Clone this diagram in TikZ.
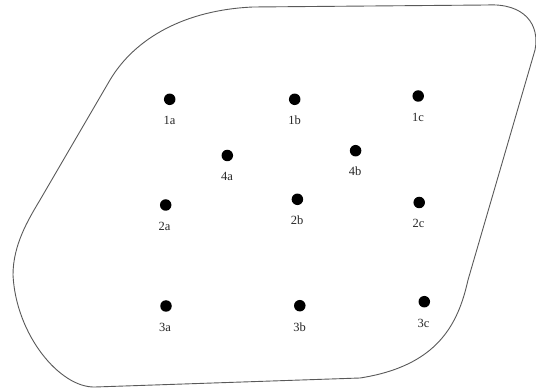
\documentclass[tikz,border=0pt]{standalone}
\usepackage{fontspec}
\setmainfont{Liberation Serif}
\begin{document}
\begin{tikzpicture}[x=1pt,y=-1pt,
  dotnode/.style={circle,fill=black,inner sep=0pt,minimum size=11.5pt},
  lbl/.style={font=\fontsize{12.5}{14}\selectfont,text=black!85,inner sep=0pt},
  outline/.style={draw=black!65,line width=0.9pt}]
\useasboundingbox (0,0) rectangle (536,390);
% outline
\draw[outline] (253,7) -- (487,5) .. controls (525,3) and (540,25) .. (535,50)
  -- (468,280) .. controls (458,325) and (437,366) .. (360,378)
  -- (95,387) .. controls (60,388) and (16,335) .. (13,275)
  .. controls (13,245) and (28,220) .. (40,200)
  -- (110,80) .. controls (135,38) and (185,10) .. (253,7) -- cycle;
% dots
\node[dotnode] (d1a) at (169.7,99.3) {};
\node[dotnode] (d1b) at (294.7,99.3) {};
\node[dotnode] (d1c) at (418.2,96) {};
\node[dotnode] (d4a) at (227.3,155.5) {};
\node[dotnode] (d4b) at (355.6,150.7) {};
\node[dotnode] (d2a) at (165.7,205) {};
\node[dotnode] (d2b) at (297.4,199.3) {};
\node[dotnode] (d2c) at (419.2,202.5) {};
\node[dotnode] (d3a) at (166,306) {};
\node[dotnode] (d3b) at (299.8,305.7) {};
\node[dotnode] (d3c) at (424.3,301.7) {};
% labels
\node[lbl] (l1a) at (169.5,120.5) {1a};
\node[lbl] (l1b) at (294.5,120.5) {1b};
\node[lbl] (l1c) at (418,117) {1c};
\node[lbl] (l4a) at (227,176.5) {4a};
\node[lbl] (l4b) at (355,171.5) {4b};
\node[lbl] (l2a) at (164.5,226) {2a};
\node[lbl] (l2b) at (297,220.5) {2b};
\node[lbl] (l2c) at (418.5,223.5) {2c};
\node[lbl] (l3a) at (165,327) {3a};
\node[lbl] (l3b) at (299.5,327) {3b};
\node[lbl] (l3c) at (423.5,323) {3c};
\end{tikzpicture}
\end{document}
